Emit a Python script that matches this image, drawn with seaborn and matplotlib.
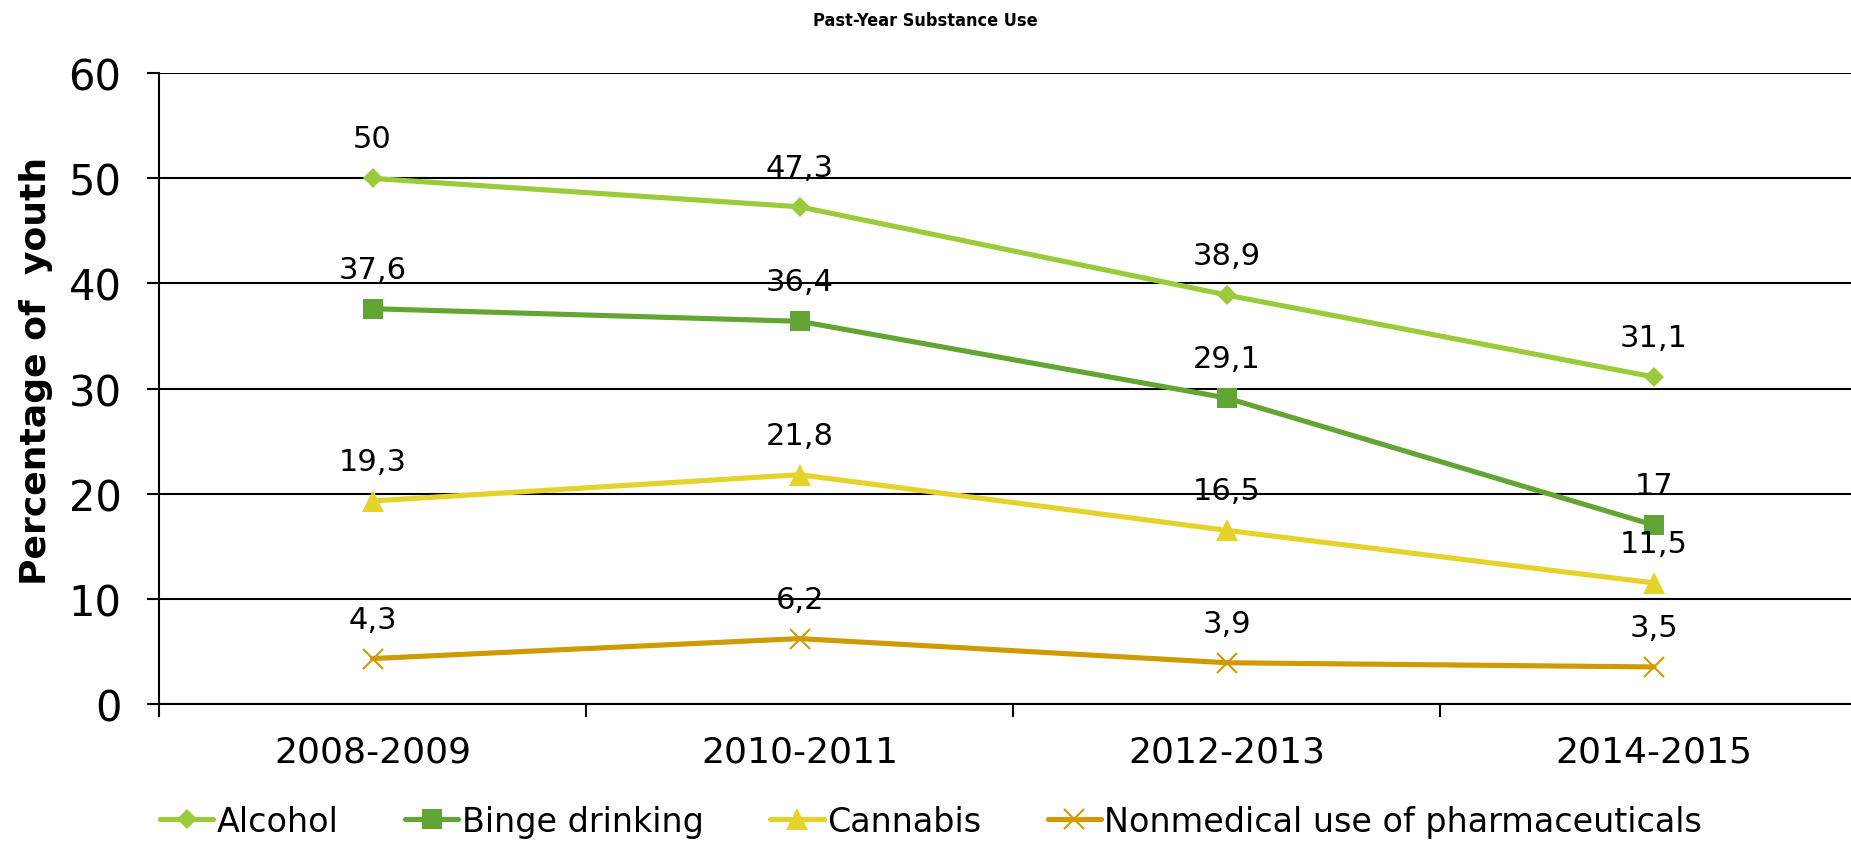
import matplotlib
matplotlib.use("Agg")
import matplotlib.pyplot as plt
import seaborn as sns
import pandas as pd
from matplotlib.lines import Line2D
from matplotlib.ticker import FixedLocator

periods = ["2008-2009", "2010-2011", "2012-2013", "2014-2015"]
alcohol = [50, 47.3, 38.9, 31.1]
binge = [37.6, 36.4, 29.1, 17]
cannabis = [19.3, 21.8, 16.5, 11.5]
pharma = [4.3, 6.2, 3.9, 3.5]
series_names = ["Alcohol", "Binge drinking", "Cannabis", "Nonmedical use of pharmaceuticals"]
colors = ["#9BCB3B", "#62A534", "#E5D22A", "#CF9A02"]
markers = ["D", "s", "^", "x"]
marker_sizes = [10.5, 14, 16, 15]

sns.set_theme(style="white")
plt.rcParams["font.family"] = ["DejaVu Sans"]
plt.rcParams["text.color"] = "black"
plt.rcParams["axes.labelcolor"] = "black"

rows = []
for name, vals in zip(series_names, [alcohol, binge, cannabis, pharma]):
    for i, (p, v) in enumerate(zip(periods, vals)):
        rows.append({"period": p, "x": i, "value": v, "series": name})
df = pd.DataFrame(rows)

fig = plt.figure(figsize=(18.51, 8.45), dpi=100)
ax = fig.add_axes([0.0859, 0.166, 0.923, 0.746])

palette = dict(zip(series_names, colors))
for name, mk, ms in zip(series_names, markers, marker_sizes):
    sub = df[df["series"] == name]
    sns.lineplot(data=sub, x="x", y="value", color=palette[name], lw=3.7,
                 marker=mk, markersize=ms, markeredgewidth=1.5 if mk == "x" else 0,
                 markeredgecolor=palette[name], ax=ax, legend=False, zorder=3)
    for _, r in sub.iterrows():
        label = f"{r['value']:g}".replace(".", ",")
        ax.annotate(label, (r["x"], r["value"]), xytext=(0, 18), textcoords="offset points",
                    ha="center", va="bottom", fontsize=22, color="black")

ax.set_xlim(-0.5, 3.5)
ax.set_ylim(0, 60)
ax.set_yticks(range(0, 61, 10))
ax.yaxis.grid(True, color="black", lw=1.5)
ax.set_axisbelow(True)
ax.set_xticks(range(4))
ax.set_xticklabels(periods)
ax.xaxis.set_minor_locator(FixedLocator([-0.5, 0.5, 1.5, 2.5, 3.5]))
ax.tick_params(axis="x", which="major", length=0, labelsize=26, pad=22, colors="black")
ax.tick_params(axis="x", which="minor", length=9, width=1.5, color="black", direction="out", bottom=True)
ax.tick_params(axis="y", length=9, width=1.5, color="black", direction="out", left=True,
               labelsize=30, pad=18, labelcolor="black")
for s in ["top", "right"]:
    ax.spines[s].set_visible(False)
for s in ["left", "bottom"]:
    ax.spines[s].set_color("black")
    ax.spines[s].set_linewidth(1.5)
ax.set_xlabel("")
ax.set_ylabel("Percentage of  youth", fontsize=26, fontweight="bold", color="black")
ax.yaxis.set_label_coords(-0.062, 0.53)

fig.text(0.5, 0.975, "Past-Year Substance Use", ha="center", va="center",
         fontsize=13, fontweight="bold", fontstretch="condensed", color="black")

handles = [Line2D([], [], color=c, lw=3.7, marker=m, markersize=ms,
                  markeredgewidth=1.5 if m == "x" else 0, markeredgecolor=c)
           for c, m, ms in zip(colors, markers, marker_sizes)]
leg = fig.legend(handles, series_names, loc="center", bbox_to_anchor=(0.503, 0.027), ncol=4,
                 frameon=False, fontsize=24, handlelength=1.6, handletextpad=0.1,
                 columnspacing=2.0)
for t in leg.get_texts():
    t.set_color("black")

fig.savefig("out.png", dpi=100)
